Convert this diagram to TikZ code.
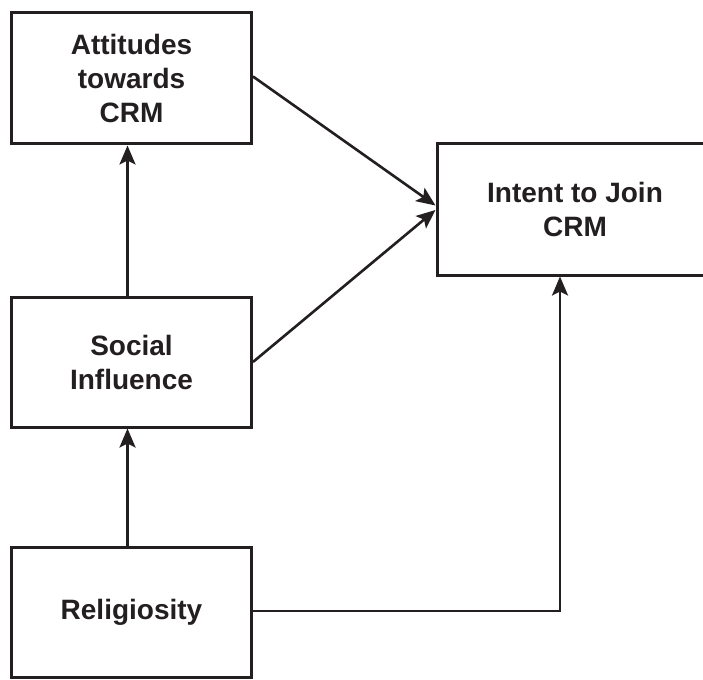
\documentclass[tikz,border=0pt]{standalone}
\usepackage{fontspec}
\setmainfont{Liberation Sans}
\usetikzlibrary{arrows.meta}
\definecolor{ink}{HTML}{231F20}
\begin{document}
\begin{tikzpicture}[x=1pt,y=-1pt,
  box/.style={draw=ink, line width=3pt, fill=white, align=center, inner sep=0pt,
    font=\fontsize{28pt}{34pt}\selectfont\bfseries, text=ink},
  conn/.style={draw=ink, line width=2.6pt, -{Stealth[length=19pt,width=16pt,inset=4pt]}}]
\useasboundingbox (0,0) rectangle (703,679);
\node[box, minimum width=240pt, minimum height=131pt] (att) at (131.5,78.5) {Attitudes\\towards\\CRM};
\node[box, minimum width=276pt, minimum height=131pt] (int) at (575,209.5) {Intent to Join\\CRM};
\node[box, minimum width=240pt, minimum height=130pt] (soc) at (131.5,362) {Social\\Influence};
\node[box, minimum width=240pt, minimum height=130pt] (rel) at (131.5,612) {Religiosity};
\draw[conn] ([xshift=-4pt]soc.north) -- ([xshift=-4pt]att.south);
\draw[conn] ([xshift=-4pt]rel.north) -- ([xshift=-4pt]soc.south);
\draw[conn] ([yshift=2pt]att.east) -- ([yshift=4pt]int.west);
\draw[conn] (soc.east) -- ([yshift=-0.5pt]int.west);
\draw[conn] ([yshift=1pt]rel.east) -| ([xshift=-15pt]int.south);
\end{tikzpicture}
\end{document}
